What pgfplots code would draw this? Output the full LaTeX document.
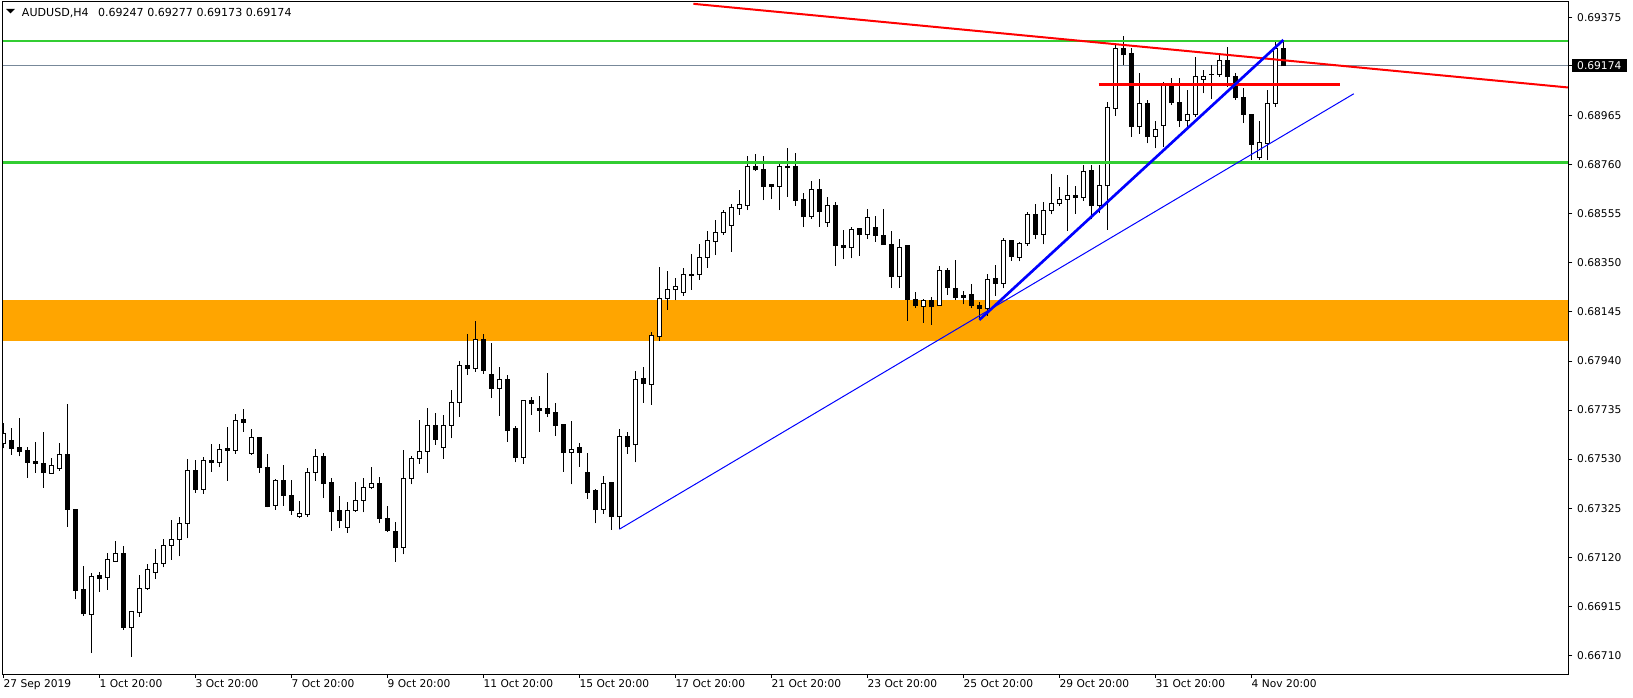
\documentclass[border=0pt]{standalone}
\usepackage{fontspec}
\setmainfont{DejaVu Sans}
\usepackage{pgfplots}
\pgfplotsset{compat=1.18}
\usepackage{pgfplotstable}

\definecolor{mtgreen}{RGB}{50,205,50}
\definecolor{mtorange}{RGB}{255,165,0}
\definecolor{bidline}{RGB}{119,136,153}

% AUDUSD H4 candles, k = bar index from 27 Sep 2019 20:00
\pgfplotstableread{
k o h l c
0 0.67596 0.67680 0.67575 0.67638
1 0.67606 0.67659 0.67548 0.67575
2 0.67578 0.67701 0.67541 0.67562
3 0.67564 0.67582 0.67453 0.67516
4 0.67518 0.67603 0.67474 0.67511
5 0.67510 0.67642 0.67411 0.67474
6 0.67470 0.67534 0.67470 0.67502
7 0.67492 0.67596 0.67481 0.67550
8 0.67550 0.67759 0.67248 0.67321
9 0.67321 0.67321 0.66944 0.66981
10 0.66983 0.67084 0.66876 0.66883
11 0.66882 0.67053 0.66719 0.67041
12 0.67042 0.67057 0.66976 0.67031
13 0.67036 0.67139 0.66983 0.67109
14 0.67103 0.67188 0.67102 0.67137
15 0.67137 0.67167 0.66816 0.66827
16 0.66827 0.66893 0.66705 0.66893
17 0.66890 0.67045 0.66872 0.66990
18 0.66990 0.67091 0.66983 0.67067
19 0.67057 0.67155 0.67028 0.67095
20 0.67095 0.67196 0.67077 0.67170
21 0.67170 0.67276 0.67109 0.67195
22 0.67195 0.67288 0.67123 0.67262
23 0.67262 0.67531 0.67199 0.67484
24 0.67484 0.67527 0.67390 0.67404
25 0.67404 0.67539 0.67386 0.67525
26 0.67525 0.67594 0.67478 0.67516
27 0.67516 0.67594 0.67495 0.67571
28 0.67573 0.67665 0.67440 0.67567
29 0.67567 0.67719 0.67553 0.67692
30 0.67694 0.67740 0.67645 0.67684
31 0.67553 0.67656 0.67548 0.67621
32 0.67621 0.67621 0.67474 0.67496
33 0.67497 0.67552 0.67328 0.67332
34 0.67337 0.67447 0.67319 0.67442
35 0.67439 0.67506 0.67336 0.67379
36 0.67380 0.67443 0.67297 0.67315
37 0.67291 0.67355 0.67283 0.67301
38 0.67299 0.67493 0.67290 0.67475
39 0.67475 0.67573 0.67440 0.67542
40 0.67542 0.67555 0.67367 0.67428
41 0.67431 0.67450 0.67231 0.67311
42 0.67314 0.67376 0.67244 0.67273
43 0.67245 0.67351 0.67223 0.67316
44 0.67315 0.67433 0.67311 0.67358
45 0.67358 0.67450 0.67307 0.67412
46 0.67412 0.67497 0.67404 0.67426
47 0.67426 0.67454 0.67262 0.67282
48 0.67283 0.67334 0.67227 0.67233
49 0.67226 0.67268 0.67102 0.67160
50 0.67162 0.67567 0.67132 0.67450
51 0.67450 0.67543 0.67424 0.67534
52 0.67534 0.67694 0.67511 0.67563
53 0.67563 0.67744 0.67474 0.67672
54 0.67672 0.67723 0.67591 0.67612
55 0.67580 0.67713 0.67532 0.67672
56 0.67672 0.67819 0.67617 0.67768
57 0.67768 0.67940 0.67708 0.67922
58 0.67922 0.68053 0.67882 0.67908
59 0.67908 0.68106 0.67896 0.68031
60 0.68031 0.68053 0.67887 0.67900
61 0.67882 0.68017 0.67787 0.67825
62 0.67825 0.67915 0.67712 0.67861
63 0.67861 0.67882 0.67603 0.67649
64 0.67656 0.67669 0.67516 0.67536
65 0.67536 0.67777 0.67511 0.67773
66 0.67773 0.67789 0.67715 0.67762
67 0.67740 0.67794 0.67645 0.67734
68 0.67740 0.67890 0.67705 0.67720
69 0.67723 0.67765 0.67628 0.67670
70 0.67673 0.67676 0.67478 0.67557
71 0.67557 0.67690 0.67424 0.67571
72 0.67577 0.67598 0.67499 0.67557
73 0.67472 0.67556 0.67365 0.67390
74 0.67397 0.67406 0.67261 0.67319
75 0.67321 0.67460 0.67302 0.67429
76 0.67431 0.67436 0.67234 0.67290
77 0.67290 0.67656 0.67237 0.67623
78 0.67623 0.67642 0.67552 0.67582
79 0.67591 0.67899 0.67516 0.67864
80 0.67865 0.67915 0.67766 0.67846
81 0.67843 0.68060 0.67757 0.68048
82 0.68042 0.68333 0.68024 0.68202
83 0.68201 0.68317 0.68154 0.68240
84 0.68238 0.68289 0.68193 0.68250
85 0.68226 0.68329 0.68213 0.68300
86 0.68300 0.68388 0.68237 0.68297
87 0.68301 0.68429 0.68279 0.68374
88 0.68372 0.68484 0.68330 0.68442
89 0.68439 0.68530 0.68383 0.68478
90 0.68477 0.68570 0.68467 0.68559
91 0.68506 0.68595 0.68397 0.68583
92 0.68577 0.68655 0.68551 0.68595
93 0.68590 0.68797 0.68571 0.68755
94 0.68754 0.68805 0.68734 0.68739
95 0.68741 0.68797 0.68613 0.68669
96 0.68676 0.68679 0.68617 0.68670
97 0.68670 0.68766 0.68571 0.68751
98 0.68751 0.68830 0.68627 0.68748
99 0.68751 0.68810 0.68590 0.68613
100 0.68617 0.68642 0.68500 0.68542
101 0.68544 0.68693 0.68535 0.68658
102 0.68658 0.68701 0.68502 0.68564
103 0.68518 0.68624 0.68502 0.68592
104 0.68592 0.68605 0.68339 0.68422
105 0.68424 0.68488 0.68365 0.68414
106 0.68414 0.68499 0.68369 0.68491
107 0.68492 0.68496 0.68381 0.68468
108 0.68468 0.68574 0.68449 0.68541
109 0.68499 0.68546 0.68439 0.68464
110 0.68465 0.68574 0.68427 0.68427
111 0.68429 0.68484 0.68247 0.68293
112 0.68293 0.68450 0.68247 0.68415
113 0.68421 0.68421 0.68108 0.68199
114 0.68199 0.68229 0.68163 0.68172
115 0.68169 0.68198 0.68101 0.68191
116 0.68195 0.68209 0.68092 0.68167
117 0.68172 0.68337 0.68172 0.68317
118 0.68317 0.68330 0.68216 0.68247
119 0.68244 0.68362 0.68195 0.68205
120 0.68212 0.68233 0.68177 0.68205
121 0.68219 0.68262 0.68160 0.68173
122 0.68174 0.68188 0.68112 0.68159
123 0.68159 0.68303 0.68130 0.68282
124 0.68283 0.68342 0.68212 0.68264
125 0.68265 0.68456 0.68244 0.68442
126 0.68442 0.68446 0.68360 0.68376
127 0.68374 0.68439 0.68356 0.68432
128 0.68432 0.68564 0.68422 0.68551
129 0.68551 0.68596 0.68450 0.68470
130 0.68470 0.68605 0.68428 0.68570
131 0.68570 0.68722 0.68553 0.68599
132 0.68599 0.68666 0.68588 0.68616
133 0.68616 0.68716 0.68485 0.68630
134 0.68631 0.68673 0.68555 0.68624
135 0.68624 0.68759 0.68610 0.68733
136 0.68737 0.68759 0.68532 0.68590
137 0.68590 0.68759 0.68557 0.68672
138 0.68672 0.69023 0.68488 0.69000
139 0.68996 0.69264 0.68966 0.69247
140 0.69247 0.69299 0.69176 0.69220
141 0.69227 0.69247 0.68878 0.68920
142 0.68920 0.69143 0.68889 0.69017
143 0.69017 0.69031 0.68850 0.68878
144 0.68878 0.68945 0.68829 0.68909
145 0.68924 0.69108 0.68836 0.69097
146 0.69094 0.69122 0.69010 0.69020
147 0.69022 0.69122 0.68920 0.68945
148 0.68945 0.69072 0.68910 0.68971
149 0.68971 0.69211 0.68961 0.69131
150 0.69117 0.69156 0.69059 0.69131
151 0.69138 0.69177 0.69035 0.69138
152 0.69138 0.69223 0.69129 0.69198
153 0.69198 0.69253 0.69087 0.69129
154 0.69131 0.69142 0.69031 0.69041
155 0.69042 0.69080 0.68934 0.68971
156 0.68971 0.68971 0.68780 0.68846
157 0.68792 0.68943 0.68780 0.68854
158 0.68850 0.69073 0.68780 0.69017
159 0.69017 0.69278 0.69003 0.69247
160 0.69247 0.69277 0.69173 0.69174
}\audusd

\begin{document}
\begin{tikzpicture}[font=\fontsize{8pt}{9.6pt}\selectfont]
\useasboundingbox (-2.025pt,-17.625pt) rectangle (1222.725pt,505.875pt);
\begin{axis}[
    at={(0pt,0pt)}, anchor=south west,
    scale only axis,
    width=1174.7pt, height=504.4pt,
    xmin=-0.08, xmax=195.7,
    ymin=0.66630, ymax=0.69441,
    axis on top,
    axis line style={black, line width=0.75pt},
    tick style={black, line width=0.75pt},
    tick align=outside,
    major tick length=2.5pt,
    xtick pos=bottom,
    ytick pos=right,
    yticklabel pos=right,
    xtick={0,12,...,156},
    xticklabels={27 Sep 2019, 1 Oct 20:00, 3 Oct 20:00, 7 Oct 20:00,
        9 Oct 20:00, 11 Oct 20:00, 15 Oct 20:00, 17 Oct 20:00,
        21 Oct 20:00, 23 Oct 20:00, 25 Oct 20:00, 29 Oct 20:00,
        31 Oct 20:00, 4 Nov 20:00},
    ytick={0.66710,0.66915,0.67120,0.67325,0.67530,0.67735,0.67940,
        0.68145,0.68350,0.68555,0.68760,0.68965,0.69375},
    yticklabels={0.66710,0.66915,0.67120,0.67325,0.67530,0.67735,0.67940,
        0.68145,0.68350,0.68555,0.68760,0.68965,0.69375},
    xticklabel style={anchor=north west, inner sep=0pt, yshift=-1.5pt},
    yticklabel style={anchor=west, inner sep=0pt, xshift=3.5pt},
    extra y ticks={0.69174},
    extra y tick labels={0.69174},
    extra y tick style={yticklabel style={fill=black, text=white,
        inner xsep=4.3pt, inner ysep=2pt, xshift=-4.3pt}},
]
% support/resistance zone
\addplot[fill=mtorange, draw=none, forget plot]
    coordinates {(-1,0.68195) (200,0.68195) (200,0.68025) (-1,0.68025)};
% bid line
\addplot[bidline, line width=0.75pt, forget plot]
    coordinates {(-1,0.69174) (200,0.69174)};

% wicks: one segment from low up to high
\addplot[draw=none, mark=none, forget plot,
    error bars/.cd, y dir=plus, y explicit, error mark=none,
    error bar style={draw=black, line width=0.75pt}]
    table[x=k, y=l, y error expr={\thisrow{h}-\thisrow{l}}] {\audusd};
% bodies (black outline / bear fill)
\addplot[draw=none, mark=none, forget plot,
    error bars/.cd, y dir=plus, y explicit, error mark=none,
    error bar style={draw=black, line width=3.75pt}]
    table[x=k, y expr={min(\thisrow{o},\thisrow{c})-0.0000209},
        y error expr={abs(\thisrow{c}-\thisrow{o})+0.0000418}] {\audusd};
% bull bodies, white inside
\addplot[draw=none, mark=none, forget plot,
    error bars/.cd, y dir=plus, y explicit, error mark=none,
    error bar style={draw=white, line width=2.25pt}]
    table[x=k,
        y expr={((\thisrow{c}-\thisrow{o})>0.00005) ? (\thisrow{o}+0.0000209) : 0.5},
        y error expr={max(\thisrow{c}-\thisrow{o}-0.0000418, 0.000001)}] {\audusd};

% horizontal levels
\addplot[mtgreen, line width=2pt] coordinates {(-1,0.69277) (200,0.69277)};
\addplot[mtgreen, line width=2pt] coordinates {(-1,0.68771) (200,0.68771)};
\addplot[red, line width=2.5pt] coordinates {(136.9,0.69097) (167.1,0.69097)};
% trend lines
\addplot[red, line width=1.5pt] coordinates {(86.25,0.69433) (196,0.69082)};
\addplot[blue, line width=0.75pt] coordinates {(77,0.67237) (168.8,0.69057)};
\addplot[blue, line width=2pt] coordinates {(122,0.68112) (160,0.69282)};
\end{axis}
% chart header
\fill[black] (2.5pt,499.15pt) -- (9.2pt,499.15pt) -- (5.85pt,495.8pt) -- cycle;
\node[anchor=base west, inner sep=0pt, font=\fontsize{8.3pt}{10pt}\selectfont]
    at (14.25pt,493.4pt)
    {AUDUSD,H4\hspace{7pt}0.69247 0.69277 0.69173 0.69174};
\end{tikzpicture}
\end{document}
